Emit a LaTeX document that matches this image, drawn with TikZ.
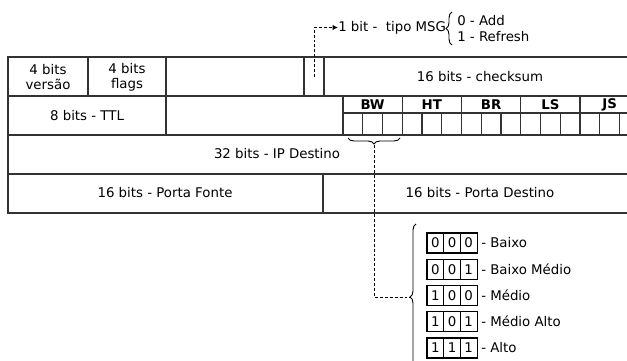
\documentclass[tikz,border=0pt]{standalone}
\usepackage{fontspec}
\setmainfont{DejaVu Sans}
\usetikzlibrary{arrows.meta,decorations.pathreplacing}

\tikzset{
  grade/.style={line width=1.1pt, draw=black!80},
  tracej/.style={line width=0.7pt, dash pattern=on 2.2pt off 1.5pt},
  chave/.style={line width=0.7pt, decorate, decoration={brace, amplitude=4.5pt}},
  bitbox/.style={draw, line width=0.8pt, minimum width=12.5pt, minimum height=15pt, inner sep=0pt},
  rotulo/.style={anchor=west, inner sep=0pt},
}

\begin{document}
\begin{tikzpicture}[x=0.75pt, y=-0.75pt, font=\fontsize{10}{11.5}\selectfont]
  \clip (0,0) rectangle (627,360);

  % quadro do cabecalho
  \draw[grade] (8,57) rectangle (640,213);
  \draw[grade] (8,96) -- (640,96) (8,135) -- (640,135) (8,174) -- (640,174);
  \draw[grade] (88,57) -- (88,96) (166,57) -- (166,135)
    (304,57) -- (304,96) (324,57) -- (324,96) (323,174) -- (323,213);
  \draw[grade] (343,96) -- (343,135) (343,113) -- (640,113);
  \foreach \i in {1,...,4}
    \draw[grade] ({343+59.25*\i},96) -- ++(0,39);
  \foreach \i in {1,...,15}
    \draw[grade] ({343+19.75*\i},113) -- ++(0,22);

  \node[align=center] (versao) at (48,77) {4 bits\\versão};
  \node[align=center] (flags) at (127,77) {4 bits\\flags};
  \node (checksum) at (480,77) {16 bits - checksum};
  \node (ttl) at (87,116) {8 bits - TTL};
  \foreach \nome [count=\k from 0] in {BW,HT,BR,LS,JS}
    \node[font=\fontsize{10}{11.5}\selectfont\bfseries] (\nome) at ({372.6+59.25*\k},104.5) {\nome};
  \node (ipdestino) at (277,154) {32 bits - IP Destino};
  \node (pfonte) at (165,193) {16 bits - Porta Fonte};
  \node (pdestino) at (480,193) {16 bits - Porta Destino};

  % tipo de mensagem
  \coordinate (tipo) at (314,77);
  \node[rotulo] (msg) at (338,27.5) {1 bit -\ \ tipo MSG};
  \draw[tracej, -{Latex[length=4pt, width=4pt]}] (tipo) |- (msg.west);
  \draw[chave] (452,45) -- (452,12);
  \node[rotulo] (add) at (457,21) {0 - Add};
  \node[rotulo] (refresh) at (457,37) {1 - Refresh};

  % codigos de BW
  \draw[chave] (400,138) -- (348,138);
  \coordinate (bwponta) at (374,145);
  \draw[chave] (416,370) -- (416,224);
  \coordinate (codponta) at (410,297);
  \draw[tracej] (bwponta) |- (codponta);

  \foreach \pa/\pb/\pc/\nivel [count=\k from 0] in
      {0/0/0/Baixo, 0/0/1/Baixo Médio, 1/0/0/Médio, 1/0/1/Médio Alto, 1/1/1/Alto} {
    \node[bitbox] (c\k a) at (435.3,{243+26.25*\k}) {\pa};
    \node[bitbox] (c\k b) at (452,{243+26.25*\k}) {\pb};
    \node[bitbox] (c\k c) at (468.7,{243+26.25*\k}) {\pc};
    \node[rotulo] (n\k) at (481,{243+26.25*\k}) {- \nivel};
  }
\end{tikzpicture}
\end{document}
